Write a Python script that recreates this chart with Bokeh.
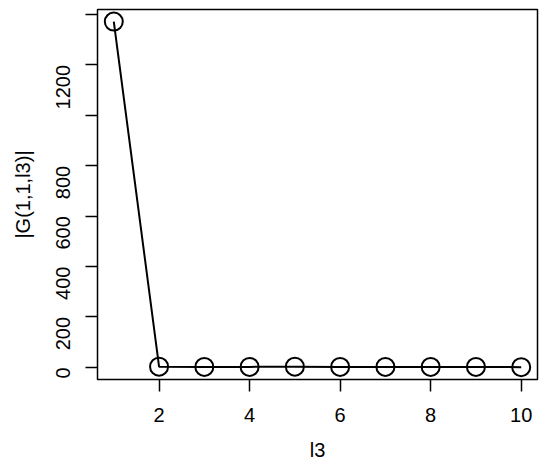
from bokeh.plotting import figure
from bokeh.models import Range1d, FixedTicker
from bokeh.embed import file_html
from bokeh.resources import INLINE
import math

l3 = [1, 2, 3, 4, 5, 6, 7, 8, 9, 10]
G = [1372, 3, 2, 2, 3, 2, 2, 2, 2, 1]
x_ticks = [2, 4, 6, 8, 10]
y_ticks = [0, 200, 400, 600, 800, 1000, 1200, 1400]
y_hidden = {1000: "", 1400: ""}

FONT = "Liberation Sans"

p = figure(width=542, height=466, output_backend="svg", toolbar_location=None,
           x_range=Range1d(0.64, 10.36), y_range=Range1d(-48, 1420),
           min_border_left=97, min_border_right=5, min_border_top=9, min_border_bottom=87)
p.grid.visible = False
p.outline_line_color = "black"
p.outline_line_width = 1.5
p.background_fill_color = "white"
p.border_fill_color = "white"

p.line(l3, G, line_color="black", line_width=2)
p.scatter(l3, G, marker="circle", size=18, fill_color=None, line_color="black", line_width=2)

for ax in (p.xaxis[0], p.yaxis[0]):
    ax.axis_line_color = None
    ax.major_tick_in = 0
    ax.major_tick_out = 12
    ax.major_tick_line_width = 1.5
    ax.major_tick_line_color = "black"
    ax.minor_tick_line_color = None
    ax.major_label_text_font = FONT
    ax.major_label_text_font_size = "20px"
    ax.major_label_text_color = "black"
    ax.axis_label_text_font = FONT
    ax.axis_label_text_font_size = "20px"
    ax.axis_label_text_font_style = "normal"
    ax.axis_label_text_color = "black"

p.xaxis[0].ticker = FixedTicker(ticks=x_ticks)
p.xaxis[0].axis_label = "l3"
p.xaxis[0].major_label_standoff = 16
p.xaxis[0].axis_label_standoff = 14

p.yaxis[0].ticker = FixedTicker(ticks=y_ticks)
p.yaxis[0].major_label_overrides = y_hidden
p.yaxis[0].major_label_orientation = math.pi / 2
p.yaxis[0].axis_label = "|G(1,1,l3)|"
p.yaxis[0].major_label_standoff = 22
p.yaxis[0].axis_label_standoff = 13

open("out.html", "w").write(file_html(p, INLINE))
